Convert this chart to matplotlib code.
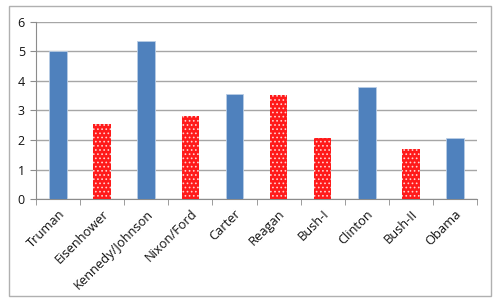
import matplotlib
matplotlib.use("Agg")
import matplotlib.pyplot as plt
from matplotlib.patches import Rectangle
import numpy as np

presidents = ["Truman", "Eisenhower", "Kennedy/Johnson", "Nixon/Ford", "Carter",
              "Reagan", "Bush-I", "Clinton", "Bush-II", "Obama"]
values = [5.03, 2.53, 5.36, 2.80, 3.57, 3.54, 2.08, 3.80, 1.69, 2.08]
party = ["D", "R", "D", "R", "D", "R", "R", "D", "R", "D"]
yticks = [0, 1, 2, 3, 4, 5, 6]

plt.rcParams['font.family'] = ['Open Sans', 'DejaVu Sans']
plt.rcParams['hatch.linewidth'] = 0.7

fig = plt.figure(figsize=(5, 3.05), dpi=100)
fig.patches.append(Rectangle((0.018, 0.03), 0.964, 0.95, transform=fig.transFigure,
                             fill=False, edgecolor="#b0b0b0", linewidth=1.0))
ax = fig.add_axes([0.072, 0.3475, 0.882, 0.5805])

x = np.arange(len(presidents))
for xi, v, p in zip(x, values, party):
    if p == "D":
        ax.bar(xi, v, width=0.4, color="#4F81BD", edgecolor="#b9cde5", linewidth=0.6, zorder=3)
    else:
        ax.bar(xi, v, width=0.4, facecolor="#ff1a1a", edgecolor="#ffd0d0", hatch="....",
               linewidth=0, zorder=3)

ax.set_xlim(-0.5, len(presidents) - 0.5)
ax.set_ylim(0, 6)
ax.set_yticks(yticks)
ax.set_yticklabels([str(t) for t in yticks], fontsize=9, color="#111111")
ax.yaxis.grid(True, color="#a6a6a6", linewidth=1.0, zorder=0)
ax.set_axisbelow(True)

ax.set_xticks(x)
ax.set_xticklabels(presidents, rotation=45, ha="right", rotation_mode="anchor",
                   fontsize=9.3, color="#111111")
ax.tick_params(axis="x", which="major", length=0, pad=6)
ax.set_xticks(np.arange(-0.5, len(presidents)), minor=True)
ax.tick_params(axis="x", which="minor", length=4, color="#8c8c8c")
ax.tick_params(axis="y", length=4, color="#8c8c8c", pad=4)

for s in ["top", "right"]:
    ax.spines[s].set_visible(False)
ax.spines["left"].set_color("#8c8c8c")
ax.spines["bottom"].set_color("#8c8c8c")

fig.savefig("out.png", dpi=100)
